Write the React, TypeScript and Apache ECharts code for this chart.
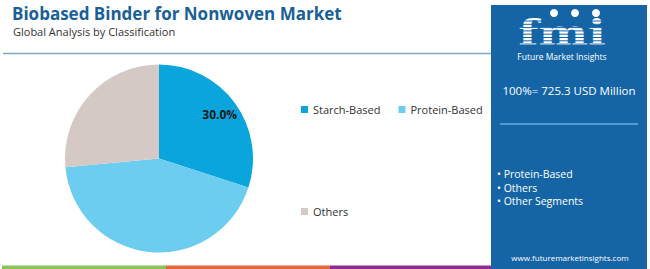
import React, { useEffect, useRef } from "react";
import * as echarts from "echarts";

const categories = ["Starch-Based", "Protein-Based", "Others"];
const shares = [30.0, 43.5, 26.5];
const sliceColors = ["#0aa5dc", "#6dcdf0", "#d5c9c5"];
const legendRow1 = ["Starch-Based", "Protein-Based"];
const legendRow2 = ["Others"];
const panelBullets = ["• Protein-Based", "• Others", "• Other Segments"];
const totalLabel = "100%= 725.3 USD Million";
const labelledSlices = ["Starch-Based"];

const PANEL = "#1565a6";
const FONT = "'Open Sans', sans-serif";

export default function App() {
  const ref = useRef<HTMLDivElement>(null);
  useEffect(() => {
    document.body.style.margin = "0";
    const chart = echarts.init(ref.current!, undefined, { renderer: "svg" });
    const data = categories.map((name, i) => ({
      name,
      value: shares[i],
      itemStyle: { color: sliceColors[i] },
    }));
    const stripes: any[] = [];
    for (let y = 21; y <= 47; y += 3.3) {
      stripes.push({
        type: "line",
        shape: { x1: 510, y1: y, x2: 616, y2: y },
        style: { stroke: PANEL, lineWidth: 1 },
        z: 12,
      });
    }
    chart.setOption({
      animation: false,
      title: [
        {
          text: "Biobased Binder for Nonwoven Market",
          left: 7,
          top: 0,
          textStyle: { fontFamily: FONT, fontWeight: "bold", fontSize: 17, color: "#1a5f97" },
        },
        {
          text: "Global Analysis by Classification",
          left: 8,
          top: 21,
          textStyle: { fontFamily: FONT, fontWeight: "normal", fontSize: 11, color: "#333333" },
        },
      ],
      legend: [
        {
          data: legendRow1,
          left: 296,
          top: 99,
          icon: "rect",
          itemWidth: 7,
          itemHeight: 7,
          itemGap: 18,
          textStyle: { fontFamily: FONT, fontSize: 11, color: "#333333" },
          selectedMode: false,
        },
        {
          data: legendRow2,
          left: 296,
          top: 201,
          icon: "rect",
          itemWidth: 7,
          itemHeight: 7,
          textStyle: { fontFamily: FONT, fontSize: 11, color: "#333333" },
          selectedMode: false,
        },
      ],
      series: [
        {
          type: "pie",
          center: [159, 158.5],
          radius: [0, 94],
          startAngle: 90,
          clockwise: true,
          silent: true,
          label: { show: false },
          labelLine: { show: false },
          data,
        },
        {
          type: "pie",
          center: [159, 158.5],
          radius: [50, 94],
          startAngle: 90,
          clockwise: true,
          silent: true,
          legendHoverLink: false,
          itemStyle: { color: "rgba(0,0,0,0)" },
          labelLine: { show: false },
          data: categories.map((name, i) => ({
            name,
            value: shares[i],
            itemStyle: { color: "rgba(0,0,0,0)" },
            label: {
              show: labelledSlices.includes(name),
              position: "inside",
              formatter: (p: any) => p.value.toFixed(1) + "%",
              fontFamily: FONT,
              fontWeight: "bold",
              fontSize: 12,
              color: "#1a1a1a",
            },
          })),
        },
      ],
      graphic: [
        {
          type: "line",
          shape: { x1: 3, y1: 53.5, x2: 491, y2: 53.5 },
          style: { stroke: "#7eaac6", lineWidth: 1.5 },
        },
        { type: "rect", shape: { x: 2, y: 265.5, width: 164, height: 3.5 }, style: { fill: "#8dc15a" } },
        { type: "rect", shape: { x: 166, y: 265.5, width: 164, height: 3.5 }, style: { fill: "#e06a3c" } },
        { type: "rect", shape: { x: 330, y: 265.5, width: 163, height: 3.5 }, style: { fill: "#8b2f8f" } },
        { type: "rect", shape: { x: 491, y: 5, width: 156, height: 264 }, style: { fill: PANEL }, z: 10 },
        {
          type: "text",
          x: 562,
          y: 32,
          scaleX: 1.3,
          style: {
            text: "fmi",
            fill: "#ffffff",
            font: "bold 36px 'DejaVu Serif', serif",
            align: "center",
            verticalAlign: "middle",
          },
          z: 11,
        },
        ...stripes,
        { type: "circle", shape: { cx: 554, cy: 13, r: 4 }, style: { fill: "#ffffff" }, z: 13 },
        { type: "circle", shape: { cx: 575, cy: 13, r: 4 }, style: { fill: "#ffffff" }, z: 13 },
        { type: "circle", shape: { cx: 596, cy: 13, r: 4 }, style: { fill: "#ffffff" }, z: 13 },
        {
          type: "text",
          x: 562,
          y: 56,
          style: { text: "Future Market Insights", fill: "#ffffff", font: `8.5px ${FONT}`, align: "center", verticalAlign: "middle" },
          z: 13,
        },
        {
          type: "text",
          x: 569,
          y: 90,
          style: { text: totalLabel, fill: "#ffffff", font: `11.5px ${FONT}`, align: "center", verticalAlign: "middle" },
          z: 13,
        },
        {
          type: "line",
          shape: { x1: 500, y1: 124, x2: 638, y2: 124 },
          style: { stroke: "#6aaee0", lineWidth: 1.5 },
          z: 13,
        },
        ...panelBullets.map((t, i) => ({
          type: "text",
          x: 497,
          y: 174 + i * 13.5,
          style: { text: t, fill: "#ffffff", font: `10.5px ${FONT}`, align: "left", verticalAlign: "middle" },
          z: 13,
        })),
        {
          type: "text",
          x: 570,
          y: 257,
          style: { text: "www.futuremarketinsights.com", fill: "#ffffff", font: `8px ${FONT}`, align: "center", verticalAlign: "middle" },
          z: 13,
        },
      ],
    });
    return () => chart.dispose();
  }, []);
  return <div ref={ref} style={{ width: 650, height: 269 }} />;
}
